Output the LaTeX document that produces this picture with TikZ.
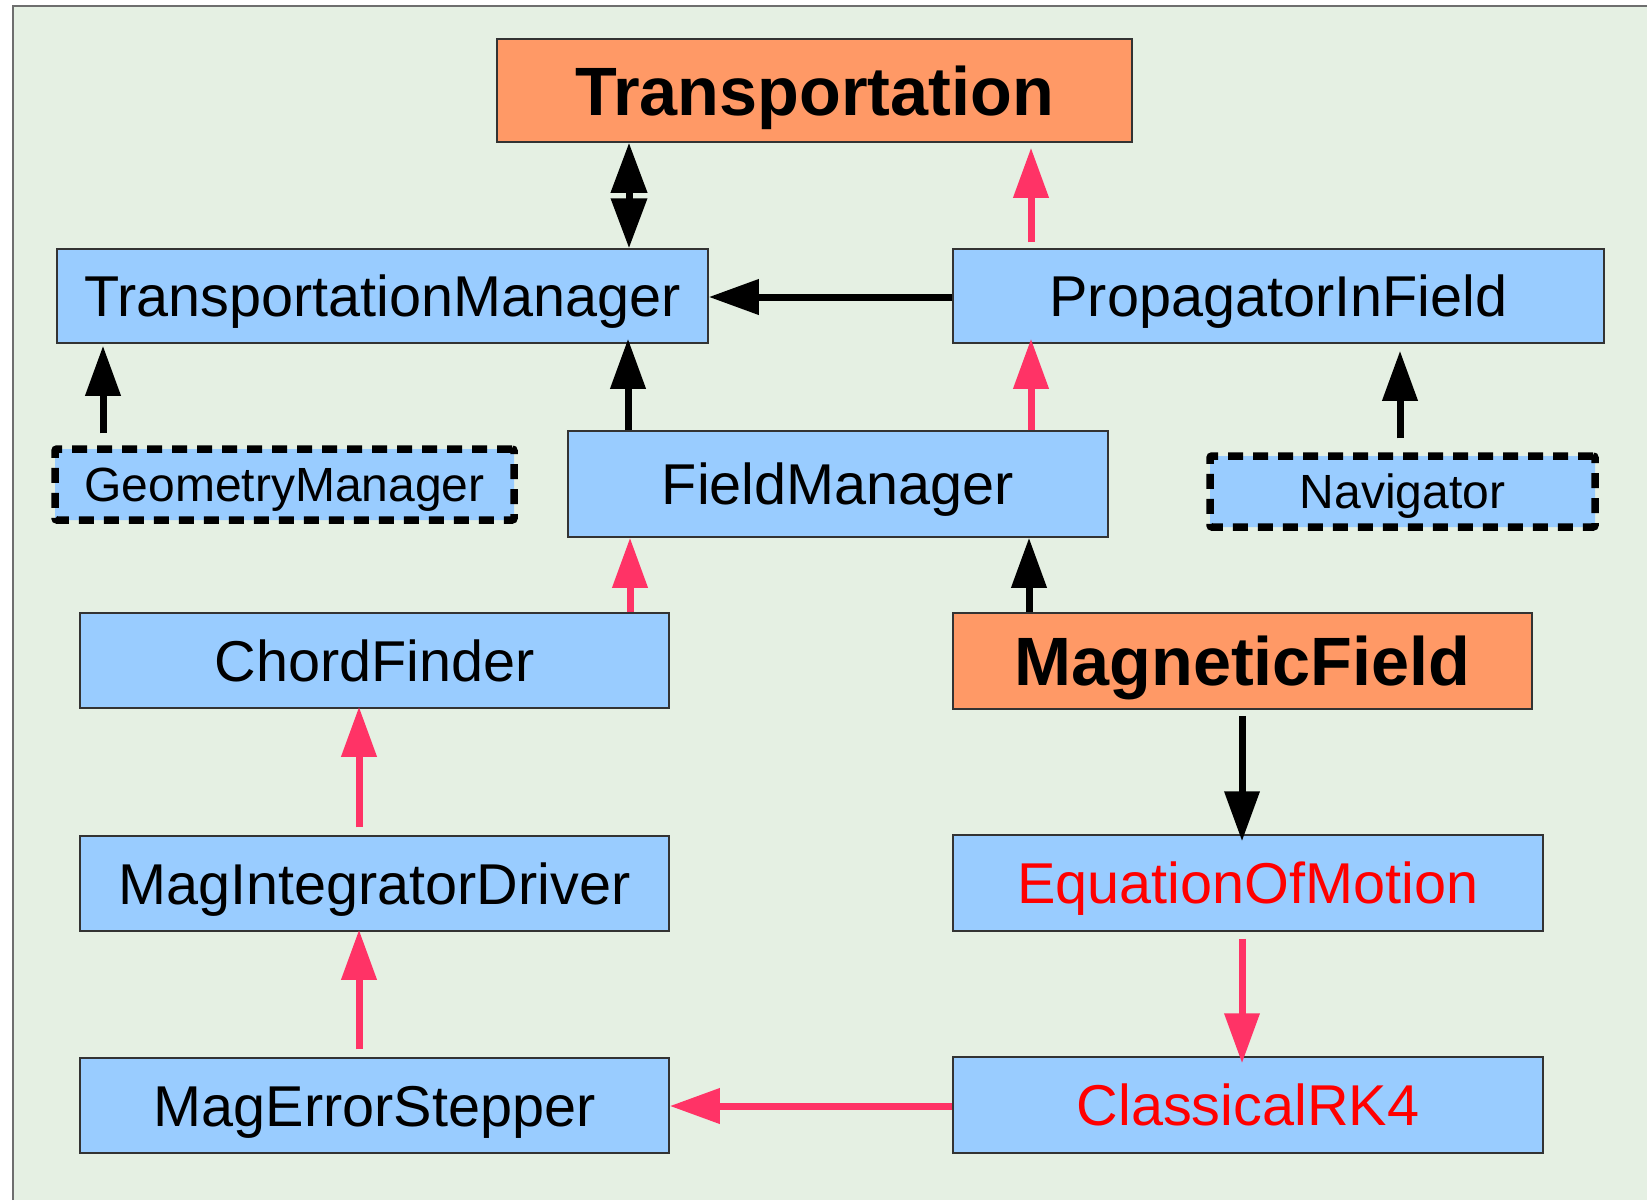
\documentclass[tikz,border=0pt]{standalone}
\usepackage{fontspec}
\setmainfont{Liberation Sans}
\usetikzlibrary{arrows.meta}
\definecolor{bgc}{HTML}{E5F0E3}
\definecolor{frameg}{HTML}{6E6E6E}
\definecolor{boxblue}{HTML}{99CCFF}
\definecolor{boxorange}{HTML}{FF9966}
\definecolor{boxline}{HTML}{333333}
\definecolor{arrred}{HTML}{FF3366}
\definecolor{txtred}{HTML}{FF0000}
\begin{document}
\begin{tikzpicture}[x=1pt,y=-1pt,
  box/.style={draw=boxline, line width=1.5pt, fill=boxblue, inner sep=0pt,
    text height=41pt, text depth=0pt, font=\fontsize{57.6}{60}\selectfont},
  obox/.style={box, fill=boxorange, text height=49pt, font=\fontsize{68.4}{70}\selectfont\bfseries},
  dbox/.style={box, draw=black, line width=7.5pt, dash pattern=on 15pt off 10pt,
    rounded corners=2pt, text height=34pt, font=\fontsize{48}{50}\selectfont},
  arr/.style={line width=7pt, -{Triangle[length=50pt,width=34pt]}},
  blk/.style={arr, draw=black},
  rd/.style={arr, draw=arrred},
]
\useasboundingbox (0,0) rectangle (1647,1200);
\fill[bgc] (13,6) rectangle (1647,1200);
\draw[frameg, line width=2pt] (13,1200) -- (13,6) -- (1647,6);

% nodes
\node[obox, minimum width=635pt, minimum height=103pt] (t) at (814.5,90.5) {Transportation};
\node[box, minimum width=651pt, minimum height=94pt] (tm) at (382.5,296) {TransportationManager};
\node[box, minimum width=651pt, minimum height=94pt] (pif) at (1278.5,296) {PropagatorInField};
\node[dbox, minimum width=459pt, minimum height=71pt] (gm) at (284.5,484.5) {GeometryManager};
\node[box, minimum width=540pt, minimum height=106pt] (fm) at (838,484) {FieldManager};
\node[dbox, minimum width=385pt, minimum height=71pt] (nav) at (1402.5,491.5) {Navigator};
\node[box, minimum width=589pt, minimum height=95pt] (cf) at (374.5,660.5) {ChordFinder};
\node[obox, minimum width=579pt, minimum height=96pt] (mf) at (1242.5,661) {MagneticField};
\node[box, minimum width=589pt, minimum height=95pt] (mid) at (374.5,883.5) {MagIntegratorDriver};
\node[box, minimum width=590pt, minimum height=96pt, text=txtred] (eom) at (1248,883) {EquationOfMotion};
\node[box, minimum width=589pt, minimum height=95pt] (mes) at (374.5,1105.5) {MagErrorStepper};
\node[box, minimum width=590pt, minimum height=96pt, text=txtred] (rk) at (1248,1105) {ClassicalRK4};

% x positions of vertical connectors
\coordinate (xdb) at (629,0);
\coordinate (xpt) at (1031,0);
\coordinate (xgm) at (103,0);
\coordinate (xft) at (628,0);
\coordinate (xnv) at (1400,0);
\coordinate (xcf) at (630,0);
\coordinate (xmf) at (1029,0);
\coordinate (xleft) at (359,0);
\coordinate (xright) at (1242,0);
\coordinate (yh) at (0,297);
\coordinate (yb) at (0,1106);

% connectors
\draw[line width=7pt, {Triangle[length=50pt,width=35pt]}-{Triangle[length=50pt,width=35pt]}]
  (tm.north -| xdb) -- (t.south -| xdb);
\draw[rd, shorten <=6pt, shorten >=5pt] (pif.north -| xpt) -- (t.south -| xpt);
\draw[blk] (pif.west |- yh) -- (tm.east |- yh);
\draw[blk, shorten <=12pt, shorten >=2pt] (gm.north -| xgm) -- (tm.south -| xgm);
\draw[blk, shorten >=-5pt] (fm.north -| xft) -- (tm.south -| xft);
\draw[rd, shorten >=-5pt] (fm.north -| xpt) -- (pif.south -| xpt);
\draw[blk, shorten <=14pt, shorten >=7pt] (nav.north -| xnv) -- (pif.south -| xnv);
\draw[rd] (cf.north -| xcf) -- (fm.south -| xcf);
\draw[blk] (mf.north -| xmf) -- (fm.south -| xmf);
\draw[rd, shorten <=8pt, shorten >=-2pt] (mid.north -| xleft) -- (cf.south -| xleft);
\draw[rd, shorten <=8pt, shorten >=-2pt] (mes.north -| xleft) -- (mid.south -| xleft);
\draw[blk, shorten <=6pt, shorten >=-7pt] (mf.south -| xright) -- (eom.north -| xright);
\draw[rd, shorten <=7pt, shorten >=-7pt] (eom.south -| xright) -- (rk.north -| xright);
\draw[rd] (rk.west |- yb) -- (mes.east |- yb);
\end{tikzpicture}
\end{document}
